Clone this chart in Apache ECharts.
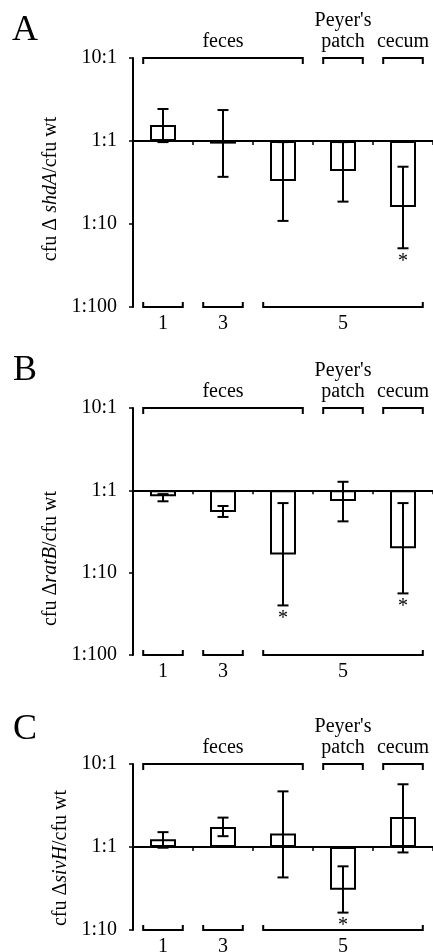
<!DOCTYPE html>
<html><head><meta charset="utf-8">
<script src="https://cdn.jsdelivr.net/npm/echarts@6/dist/echarts.min.js"></script>
<style>html,body{margin:0;padding:0;background:#fff}#c{width:433px;height:952px}</style>
</head><body><div id="c"></div>
<script>
// ---- data ----
const categories = ['day 1 feces', 'day 3 feces', 'day 5 feces', "day 5 Peyer's patch", 'day 5 cecum'];
const tickLabels = { '10': '10:1', '1': '1:1', '0.1': '1:10', '0.01': '1:100' };
const siteGroups = [['feces', 0, 2], ["Peyer's\npatch", 3, 3], ['cecum', 4, 4]];
const dayGroups = [['1', 0, 0], ['3', 1, 1], ['5', 2, 4]];

const A_mean = [1.56, 0.93, 0.33, 0.436, 0.16];
const A_low  = [0.97, 0.37, 0.109, 0.186, 0.051];
const A_high = [2.43, 2.36, 0.97, 0.97, 0.49];
const A_sig  = [0, 0, 0, 0, 1];

const B_mean = [0.845, 0.546, 0.166, 0.74, 0.198];
const B_low  = [0.736, 0.475, 0.04, 0.42, 0.056];
const B_high = [0.90, 0.645, 0.70, 1.27, 0.70];
const B_sig  = [0, 0, 1, 0, 1];

const C_mean = [1.24, 1.74, 1.45, 0.306, 2.30];
const C_low  = [0.98, 1.35, 0.43, 0.162, 0.86];
const C_high = [1.51, 2.26, 4.68, 0.585, 5.7];
const C_sig  = [0, 0, 0, 1, 0];

// ---- layout / style ----
const FONT = 'Liberation Serif, Times New Roman, serif';
const panels = [
  { letter: 'A', gene: 'shdA', pre: 'cfu Δ ', mean: A_mean, low: A_low, high: A_high, sig: A_sig, min: 0.01, max: 10, top: 58, height: 249, letterY: 31, namePad: 13 },
  { letter: 'B', gene: 'ratB', pre: 'cfu Δ', mean: B_mean, low: B_low, high: B_high, sig: B_sig, min: 0.01, max: 10, top: 408, height: 247, letterY: 371, namePad: 54 },
  { letter: 'C', gene: 'sivH', pre: 'cfu Δ', mean: C_mean, low: C_low, high: C_high, sig: C_sig, min: 0.1, max: 10, top: 764, height: 166, letterY: 730, namePad: 22 }
];
const GRID_LEFT = 133, GRID_WIDTH = 305;
const INSET = 0.17;

const grid = [], xAxis = [], yAxis = [], series = [], graphic = [];

panels.forEach((p, i) => {
  grid.push({ left: GRID_LEFT, top: p.top, width: GRID_WIDTH, height: p.height });
  const frac = (Math.log10(1) - Math.log10(p.min)) / (Math.log10(p.max) - Math.log10(p.min));
  xAxis.push({
    type: 'category', gridIndex: i, data: categories, position: 'bottom',
    offset: -p.height * frac,
    axisLine: { onZero: false, lineStyle: { color: '#000', width: 2 } },
    axisTick: { show: true, interval: 0, length: 4, lineStyle: { color: '#000', width: 1.5 } },
    axisLabel: { show: false }, splitLine: { show: false }
  });
  yAxis.push({
    type: 'log', logBase: 10, gridIndex: i, min: p.min, max: p.max,
    axisLine: { show: true, lineStyle: { color: '#000', width: 2 } },
    axisTick: { show: true, length: 4, lineStyle: { color: '#000', width: 1.5 } },
    minorTick: { show: false }, splitLine: { show: false },
    axisLabel: {
      color: '#000', fontFamily: FONT, fontSize: 20, margin: 16,
      formatter: v => tickLabels[String(+v.toPrecision(6))] || ''
    },
    name: '{n|' + p.pre + '}{i|' + p.gene + '}{n|/cfu wt}',
    nameLocation: 'middle', nameGap: 48, nameRotate: 90,
    nameTextStyle: {
      color: '#000', fontFamily: FONT, fontSize: 20, padding: [0, p.namePad, 0, 0],
      rich: {
        n: { fontFamily: FONT, fontSize: 20, color: '#000' },
        i: { fontFamily: FONT, fontSize: 20, fontStyle: 'italic', color: '#000' }
      }
    }
  });
  // bars
  series.push({
    type: 'bar', xAxisIndex: i, yAxisIndex: i, data: p.mean, barWidth: 26,
    itemStyle: { color: '#fff', borderColor: '#000', borderWidth: 2 },
    emphasis: { disabled: true }, silent: true, z: 2
  });
  // error bars
  series.push({
    type: 'custom', xAxisIndex: i, yAxisIndex: i, z: 3, silent: true,
    data: p.mean.map((m, k) => [k, p.low[k], p.high[k], p.sig[k]]),
    encode: { x: 0, y: [1, 2] },
    renderItem: (params, api) => {
      const lo = api.coord([api.value(0), api.value(1)]);
      const hi = api.coord([api.value(0), api.value(2)]);
      const x = lo[0], cw = 5.5;
      const st = { stroke: '#000', lineWidth: 2 };
      const kids = [
        { type: 'line', shape: { x1: x, y1: lo[1], x2: x, y2: hi[1] }, style: st },
        { type: 'line', shape: { x1: x - cw, y1: lo[1], x2: x + cw, y2: lo[1] }, style: st },
        { type: 'line', shape: { x1: x - cw, y1: hi[1], x2: x + cw, y2: hi[1] }, style: st }
      ];
      if (api.value(3)) {
        kids.push({ type: 'text', style: { text: '*', x: x, y: lo[1] + 13, fill: '#000', fontFamily: FONT, fontSize: 20, align: 'center', verticalAlign: 'middle' } });
      }
      return { type: 'group', children: kids };
    }
  });
  // brackets (top: sites, bottom: days)
  const groups = siteGroups.map(g => ({ g, top: true })).concat(dayGroups.map(g => ({ g, top: false })));
  series.push({
    type: 'custom', xAxisIndex: i, yAxisIndex: i, z: 3, silent: true,
    data: groups.map(o => [o.g[1], o.g[2], o.top ? p.max : p.min]),
    encode: { x: [0, 1], y: 2 },
    renderItem: (params, api) => {
      const o = groups[params.dataIndex];
      const a = api.coord([api.value(0), api.value(2)]);
      const b = api.coord([api.value(1), api.value(2)]);
      const w = api.size([1, 0])[0];
      const x1 = a[0] - w / 2 + INSET * w, x2 = b[0] + w / 2 - INSET * w, y = a[1];
      const d = o.top ? 6 : -5;
      const st = { stroke: '#000', lineWidth: 2, fill: null };
      const kids = [
        { type: 'polyline', shape: { points: [[x1, y + d], [x1, y], [x2, y], [x2, y + d]] }, style: st },
        o.top
          ? { type: 'text', style: { text: o.g[0], x: (x1 + x2) / 2, y: y - 6, fill: '#000', fontFamily: FONT, fontSize: 20, lineHeight: 21, align: 'center', verticalAlign: 'bottom' } }
          : { type: 'text', style: { text: o.g[0], x: (x1 + x2) / 2, y: y + 17, fill: '#000', fontFamily: FONT, fontSize: 20, align: 'center', verticalAlign: 'middle' } }
      ];
      return { type: 'group', children: kids };
    }
  });
  graphic.push({ type: 'text', x: 25, y: p.letterY, style: { text: p.letter, fill: '#000', fontFamily: FONT, fontSize: 36, align: 'center', verticalAlign: 'middle' } });
});

const chart = echarts.init(document.getElementById('c'));
chart.setOption({ animation: false, backgroundColor: '#fff', grid, xAxis, yAxis, series, graphic });
</script>
</body></html>
